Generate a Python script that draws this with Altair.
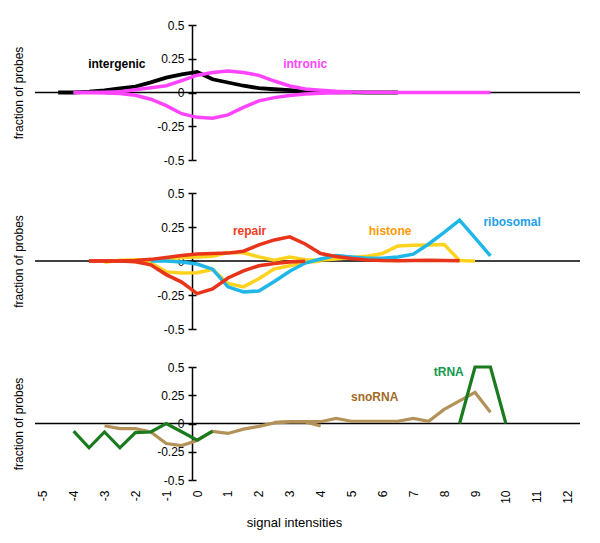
import altair as alt
import pandas as pd

FONT = "Liberation Sans"
PLOT_W = 545
X_DOMAIN = [-5.25, 12.4]
X_TICKS = list(range(-5, 13))
Y_TICKS = [-0.5, -0.25, 0, 0.25, 0.5]
AXIS_PX = 157  # pixel distance of the y axis line from the plot's left edge

# ---------------- panel 1 ----------------
intergenic_x = [-4.5, -4, -3.5, -3, -2.5, -2, -1.5, -1, -0.5, 0, 0.5, 1, 1.5, 2, 2.5, 3, 3.5, 4, 4.5, 5, 5.5, 6, 6.5]
intergenic_y = [0, 0, 0.006, 0.016, 0.03, 0.044, 0.075, 0.11, 0.135, 0.152, 0.098, 0.074, 0.05, 0.032, 0.024, 0.018, 0.01, 0.004, 0.002, 0.001, 0, 0, 0]

intronic_up_x = [-4, -3.5, -3, -2.5, -2, -1.5, -1, -0.5, 0, 0.5, 1, 1.5, 2, 2.5, 3, 3.5, 4, 4.5, 5, 5.5, 6, 6.5, 7, 7.5, 8, 8.5, 9, 9.5]
intronic_up_y = [0, 0, 0.002, 0.006, 0.02, 0.035, 0.05, 0.088, 0.128, 0.148, 0.16, 0.148, 0.127, 0.085, 0.048, 0.026, 0.017, 0.009, 0.004, 0.002, 0.001, 0, 0, 0, 0, 0, 0, 0]

intronic_down_x = [-4, -3.5, -3, -2.5, -2, -1.5, -1, -0.5, 0, 0.5, 1, 1.5, 2, 2.5, 3, 3.5, 4, 4.5, 5]
intronic_down_y = [0, 0, -0.003, -0.008, -0.02, -0.05, -0.097, -0.157, -0.184, -0.19, -0.166, -0.11, -0.062, -0.038, -0.022, -0.012, -0.006, -0.002, 0]

# ---------------- panel 2 ----------------
repair_up_x = [-3.5, -3, -2.5, -2, -1.5, -1, -0.5, 0, 0.5, 1, 1.5, 2, 2.5, 3, 3.5, 4, 4.5, 5, 5.5, 6, 6.5, 7, 7.5, 8, 8.5]
repair_up_y = [0, 0, 0, 0.004, 0.012, 0.025, 0.04, 0.052, 0.056, 0.058, 0.072, 0.118, 0.155, 0.178, 0.125, 0.055, 0.033, 0.018, 0.008, 0.003, 0.002, 0.003, 0.006, 0.004, 0.002]

repair_down_x = [-3.5, -3, -2.5, -2, -1.5, -1, -0.5, 0, 0.5, 1, 1.5, 2, 2.5, 3, 3.5]
repair_down_y = [0, 0, 0, -0.006, -0.028, -0.1, -0.155, -0.24, -0.205, -0.125, -0.072, -0.035, -0.018, -0.008, -0.002]

histone_up_x = [-3, -2.5, -2, -1.5, -1, -0.5, 0, 0.5, 1, 1.5, 2, 2.5, 3, 3.5, 4, 4.5, 5, 5.5, 6, 6.5, 7, 7.5, 8, 8.5, 9]
histone_up_y = [-0.01, 0.005, 0.01, 0.01, 0.015, 0.025, 0.03, 0.035, 0.062, 0.06, 0.03, 0.005, 0.03, 0.01, 0.008, 0.015, 0.025, 0.035, 0.055, 0.11, 0.115, 0.118, 0.122, 0.003, 0]

histone_down_x = [-3, -2.5, -2, -1.5, -1, -0.5, 0, 0.5, 1, 1.5, 2, 2.5, 3, 3.5, 4]
histone_down_y = [0, 0, -0.004, -0.015, -0.08, -0.088, -0.087, -0.062, -0.165, -0.19, -0.13, -0.058, -0.035, -0.012, 0]

ribosomal_x = [-1.5, -1, -0.5, 0, 0.5, 1, 1.5, 2, 2.5, 3, 3.5, 4, 4.5, 5, 5.5, 6, 6.5, 7, 7.5, 8, 8.5, 9, 9.5]
ribosomal_y = [0, 0, -0.008, -0.022, -0.06, -0.19, -0.228, -0.22, -0.15, -0.075, -0.015, 0.015, 0.04, 0.03, 0.02, 0.02, 0.03, 0.05, 0.125, 0.21, 0.3, 0.17, 0.038]

# ---------------- panel 3 ----------------
trna_x = [-4, -3.5, -3, -2.5, -2, -1.5, -1, -0.5, 0, 0.5, 8.5, 9, 9.5, 10]
trna_y = [-0.068, -0.215, -0.075, -0.215, -0.08, -0.075, 0, -0.073, -0.147, -0.068, 0, 0.5, 0.5, 0]
trna_part = [1, 1, 1, 1, 1, 1, 1, 1, 1, 1, 2, 2, 2, 2]

snorna_down_x = [-3, -2.5, -2, -1.5, -1, -0.5, 0, 0.5, 1, 1.5, 2, 2.5, 3, 3.5, 4]
snorna_down_y = [-0.02, -0.045, -0.045, -0.075, -0.177, -0.195, -0.15, -0.07, -0.088, -0.05, -0.025, 0.006, 0.014, 0.014, -0.022]

snorna_up_x = [2.5, 3, 3.5, 4, 4.5, 5, 5.5, 6, 6.5, 7, 7.5, 8, 8.5, 9, 9.5]
snorna_up_y = [0.01, 0.016, 0.016, 0.016, 0.045, 0.02, 0.02, 0.02, 0.02, 0.045, 0.02, 0.125, 0.2, 0.275, 0.1]

# ---------------- labels ----------------
p1_labels = ["intergenic", "intronic"]
p1_label_x = [-2.6, 3.5]
p1_label_y = [0.21, 0.211]
p2_labels = ["repair", "histone", "ribosomal"]
p2_label_x = [1.7, 6.25, 10.2]
p2_label_y = [0.22, 0.222, 0.285]
p3_labels = ["snoRNA", "tRNA"]
p3_label_x = [5.75, 8.15]
p3_label_y = [0.235, 0.455]

LINE_COLORS = {
    "intergenic": "#000000", "intronic": "#FF44FF",
    "repair": "#E8341A", "histone": "#FFD21E", "ribosomal": "#1EB7E8",
    "snoRNA": "#B3925A", "tRNA": "#1A7A1E",
}
TEXT_COLORS = {
    "intergenic": "#000000", "intronic": "#FF44FF",
    "repair": "#F03C1E", "histone": "#FF9900", "ribosomal": "#1E9FE8",
    "snoRNA": "#A36A28", "tRNA": "#109A4A",
}

x_scale = alt.Scale(domain=X_DOMAIN, nice=False, zero=False)
y_scale = alt.Scale(domain=[-0.5, 0.5], nice=False, zero=False)


def panel(series, labels, lx, ly, height, show_x):
    left_axis = alt.Axis(
        values=Y_TICKS, labelExpr="'' + datum.value", orient="left", offset=-AXIS_PX,
        tickSize=4, tickWidth=1.5, tickColor="black", domainWidth=1.5, domainColor="black",
        labelPadding=4, labelFont=FONT, labelFontSize=12, labelColor="black", grid=False,
        title="fraction of probes", titleX=-174, titleY=height / 2, titleAngle=270,
        titleBaseline="middle", titleAlign="center", titleFont=FONT, titleFontSize=12,
        titleFontWeight="normal", titleColor="black",
    )
    right_axis = alt.Axis(
        values=Y_TICKS, orient="right", offset=-(PLOT_W - AXIS_PX), tickSize=4, tickWidth=1.5,
        tickColor="black", domain=False, labels=False, title=None, grid=False,
    )
    if show_x:
        x_axis = alt.Axis(
            values=X_TICKS, labelExpr="'' + datum.value", labelAngle=270, ticks=False, tickSize=0,
            domain=False, grid=False, labelPadding=10, labelFont=FONT, labelFontSize=12,
            labelColor="black", labelFlush=False, labelOverlap=False,
            title="signal intensities", titleX=259, titleY=42, titleBaseline="middle",
            titleAlign="center", titleFont=FONT, titleFontSize=13, titleFontWeight="normal",
            titleColor="black",
        )
    else:
        x_axis = None

    zero_df = pd.DataFrame({"z": [0]})
    layers = [
        alt.Chart(zero_df).mark_rule(color="black", strokeWidth=1.3).encode(
            y=alt.Y("z:Q", scale=y_scale, axis=left_axis)),
        alt.Chart(zero_df).mark_rule(opacity=0).encode(
            y=alt.Y("z:Q", scale=y_scale, axis=right_axis)),
    ]
    for name, xs, ys, parts, width in series:
        df = pd.DataFrame({"x": xs, "v": ys, "part": parts})
        layers.append(
            alt.Chart(df).mark_line(color=LINE_COLORS[name], strokeWidth=width).encode(
                x=alt.X("x:Q", scale=x_scale, axis=x_axis),
                y=alt.Y("v:Q", scale=y_scale, axis=None),
                detail="part:N",
            )
        )
    ldf = pd.DataFrame({"label": labels, "x": lx, "y": ly,
                        "color": [TEXT_COLORS[l] for l in labels]})
    layers.append(
        alt.Chart(ldf).mark_text(font=FONT, fontSize=12, fontWeight="bold", baseline="middle").encode(
            x=alt.X("x:Q", scale=x_scale, axis=x_axis),
            y=alt.Y("y:Q", scale=y_scale, axis=None),
            text="label:N",
            color=alt.Color("color:N", scale=None),
        )
    )
    return alt.layer(*layers).resolve_axis(y="independent").properties(width=PLOT_W, height=height)


def ones(n):
    return [1] * n


p1 = panel(
    [("intergenic", intergenic_x, intergenic_y, ones(len(intergenic_x)), 3.8),
     ("intronic", intronic_up_x, intronic_up_y, ones(len(intronic_up_x)), 3.5),
     ("intronic", intronic_down_x, intronic_down_y, ones(len(intronic_down_x)), 3.5)],
    p1_labels, p1_label_x, p1_label_y, 135, False)

p2 = panel(
    [("histone", histone_up_x, histone_up_y, ones(len(histone_up_x)), 3.5),
     ("histone", histone_down_x, histone_down_y, ones(len(histone_down_x)), 3.5),
     ("ribosomal", ribosomal_x, ribosomal_y, ones(len(ribosomal_x)), 3.5),
     ("repair", repair_up_x, repair_up_y, ones(len(repair_up_x)), 3.5),
     ("repair", repair_down_x, repair_down_y, ones(len(repair_down_x)), 3.5)],
    p2_labels, p2_label_x, p2_label_y, 136, False)

p3 = panel(
    [("snoRNA", snorna_down_x, snorna_down_y, ones(len(snorna_down_x)), 3.2),
     ("snoRNA", snorna_up_x, snorna_up_y, ones(len(snorna_up_x)), 3.2),
     ("tRNA", trna_x, trna_y, trna_part, 3.2)],
    p3_labels, p3_label_x, p3_label_y, 113, True)

top = alt.vconcat(p1, p2, spacing=21)
chart = alt.vconcat(top, p3, spacing=25).properties(
    padding={"left": 4, "top": 11, "right": 5, "bottom": 5}
).configure(background="white", view=alt.ViewConfig(stroke=None))

chart.save("out.html", embed_options={"renderer": "svg", "actions": False})
